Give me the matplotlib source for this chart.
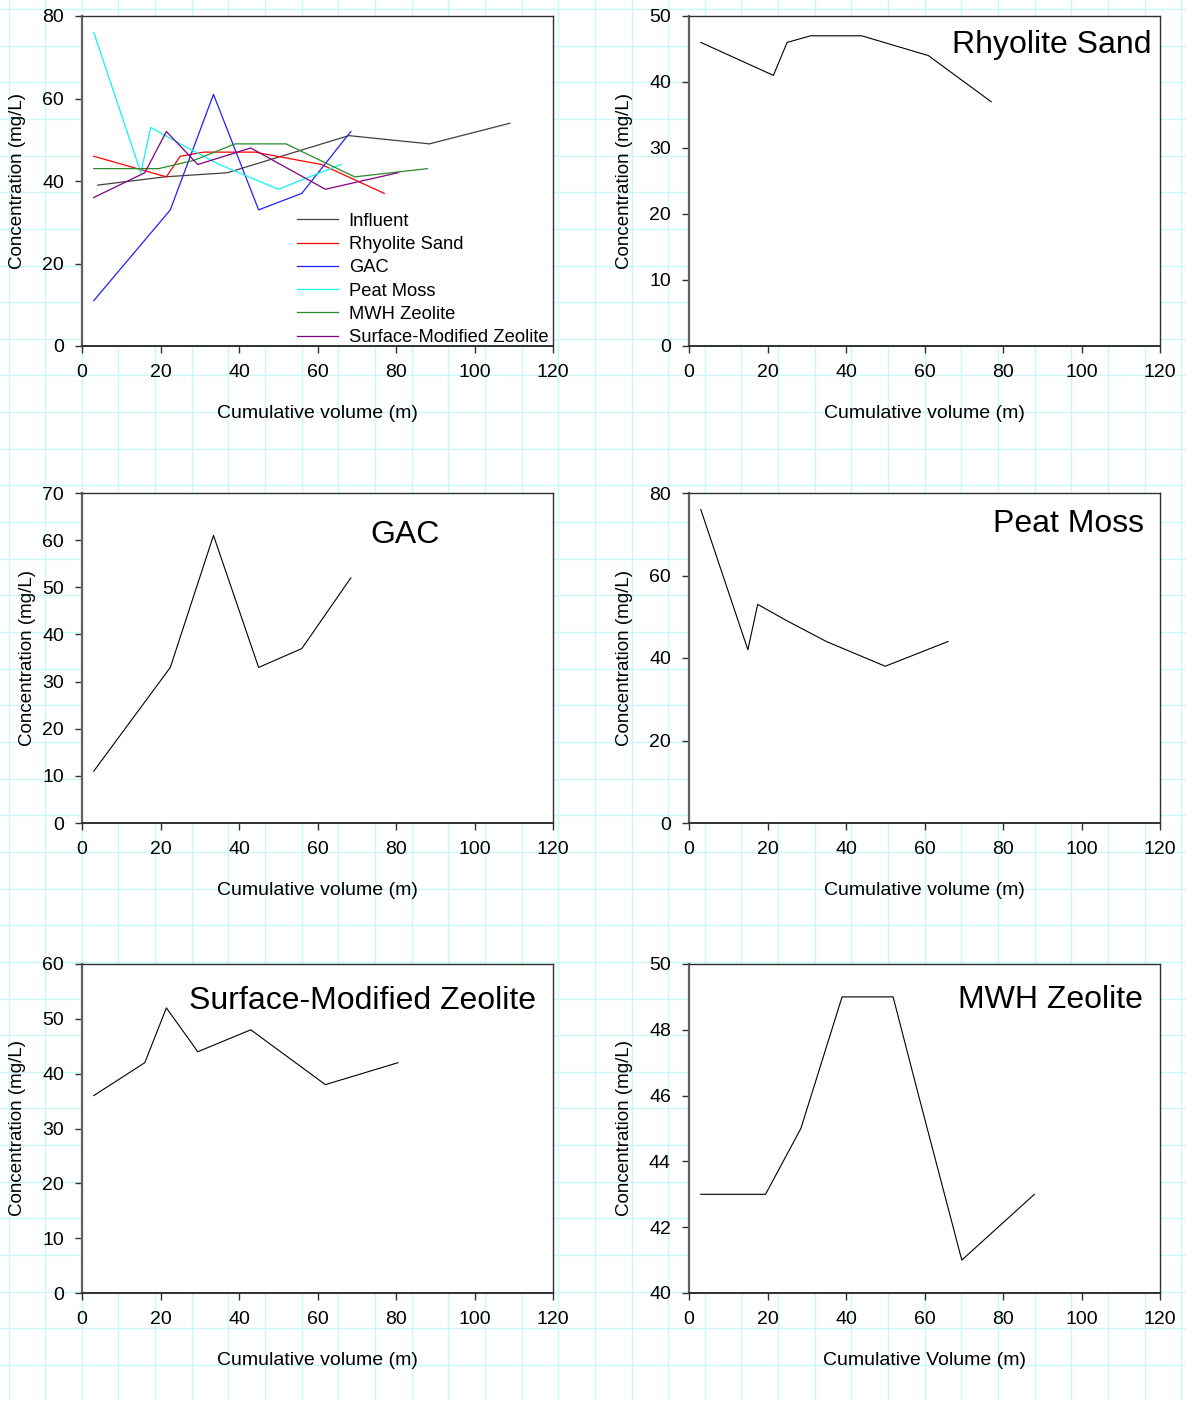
import matplotlib
matplotlib.use("Agg")
import matplotlib.pyplot as plt

plt.rcParams['font.family'] = ['Liberation Sans', 'DejaVu Sans']

# Data (cumulative volume vs concentration)
influent_x = [4, 21, 37, 68, 88.5, 109]
influent_y = [39, 41, 42, 51, 49, 54]

rhyolite_x = [3, 21.5, 25, 31, 44, 61, 77]
rhyolite_y = [46, 41, 46, 47, 47, 44, 37]

gac_x = [3, 22.5, 33.5, 45, 56, 68.5]
gac_y = [11, 33, 61, 33, 37, 52]

peat_x = [3, 15, 17.5, 25, 35, 50, 66]
peat_y = [76, 42, 53, 49, 44, 38, 44]

mwh_x = [3, 19.5, 28.5, 39, 52, 58.5, 69.5, 88]
mwh_y = [43, 43, 45, 49, 49, 46, 41, 43]

smz_x = [3, 16, 21.5, 29.5, 43, 62, 80.5]
smz_y = [36, 42, 52, 44, 48, 38, 42]

W, H = 1186, 1401
fig = plt.figure(figsize=(W / 100, H / 100), dpi=100)

# graph-paper background
bg = fig.add_axes([0, 0, 1, 1], zorder=-10)
bg.set_xlim(0, W)
bg.set_ylim(H, 0)
bg.axis('off')
gx = 8.5
while gx < W:
    bg.axvline(gx, color='#c8f8f8', lw=1.0)
    gx += 36.65
gy = 9.0
while gy < H:
    bg.axhline(gy, color='#c8f8f8', lw=1.0)
    gy += 36.65


def make_axes(left_px, top_px, bottom_px, ylab_x=-0.119):
    ax = fig.add_axes([left_px / W, 1 - bottom_px / H, 471 / W, (bottom_px - top_px) / H])
    ax.set_facecolor('white')
    for s in ax.spines.values():
        s.set_color('#303030')
        s.set_linewidth(1.0)
    ax.spines['left'].set_color('#606060')
    ax.spines['left'].set_linewidth(1.6)
    ax.spines['bottom'].set_linewidth(1.4)
    ax.tick_params(direction='out', length=5, width=1, labelsize=14, color='#303030')
    ax.tick_params(axis='x', pad=8)
    ax.tick_params(axis='y', pad=8)
    ax.set_xlim(0, 120)
    ax.set_xticks(range(0, 121, 20))
    ax.set_ylabel('Concentration (mg/L)', fontsize=13.5)
    ax.set_xlabel('Cumulative volume (m)', fontsize=14)
    ax.xaxis.set_label_coords(0.5, -0.18)
    ax.yaxis.set_label_coords(ylab_x, 0.5)
    return ax


# Panel 1: all series
ax1 = make_axes(82, 16, 346)
ax1.plot(influent_x, influent_y, color='#404040', lw=0.9, label='Influent')
ax1.plot(rhyolite_x, rhyolite_y, color='#ff0000', lw=0.9, label='Rhyolite Sand')
ax1.plot(gac_x, gac_y, color='#2020ff', lw=0.9, label='GAC')
ax1.plot(peat_x, peat_y, color='#10f4f4', lw=0.9, label='Peat Moss')
ax1.plot(mwh_x, mwh_y, color='#2a8a2a', lw=0.9, label='MWH Zeolite')
ax1.plot(smz_x, smz_y, color='#800080', lw=0.9, label='Surface-Modified Zeolite')
ax1.set_ylim(0, 80)
ax1.set_yticks(range(0, 81, 20))
ax1.legend(loc='lower right', bbox_to_anchor=(0.99, 0.0), frameon=False, fontsize=13.2,
           handlelength=2.2, handletextpad=0.6, labelspacing=0.34, borderpad=0, borderaxespad=0)

# Panel 2: Rhyolite Sand
ax2 = make_axes(689, 16, 346)
ax2.plot(rhyolite_x, rhyolite_y, color='black', lw=0.8)
ax2.set_ylim(0, 50)
ax2.set_yticks(range(0, 51, 10))
ax2.text(0.983, 0.912, 'Rhyolite Sand', transform=ax2.transAxes, ha='right', va='center', fontsize=23)

# Panel 3: GAC
ax3 = make_axes(82, 493, 823, ylab_x=-0.098)
ax3.plot(gac_x, gac_y, color='black', lw=0.8)
ax3.set_ylim(0, 70)
ax3.set_yticks(range(0, 71, 10))
ax3.text(0.686, 0.873, 'GAC', transform=ax3.transAxes, ha='center', va='center', fontsize=23)

# Panel 4: Peat Moss
ax4 = make_axes(689, 493, 823)
ax4.plot(peat_x, peat_y, color='black', lw=0.8)
ax4.set_ylim(0, 80)
ax4.set_yticks(range(0, 81, 20))
ax4.text(0.966, 0.906, 'Peat Moss', transform=ax4.transAxes, ha='right', va='center', fontsize=23)

# Panel 5: Surface-Modified Zeolite
ax5 = make_axes(82, 964, 1293)
ax5.plot(smz_x, smz_y, color='black', lw=0.8)
ax5.set_ylim(0, 60)
ax5.set_yticks(range(0, 61, 10))
ax5.text(0.964, 0.888, 'Surface-Modified Zeolite', transform=ax5.transAxes, ha='right', va='center', fontsize=23)

# Panel 6: MWH Zeolite
ax6 = make_axes(689, 964, 1293)
ax6.plot(mwh_x, mwh_y, color='black', lw=0.8)
ax6.set_ylim(40, 50)
ax6.set_yticks(range(40, 51, 2))
ax6.set_xlabel('Cumulative Volume (m)', fontsize=14)
ax6.xaxis.set_label_coords(0.5, -0.18)
ax6.text(0.964, 0.891, 'MWH Zeolite', transform=ax6.transAxes, ha='right', va='center', fontsize=23)

fig.savefig('out.png', dpi=100, facecolor='white')
